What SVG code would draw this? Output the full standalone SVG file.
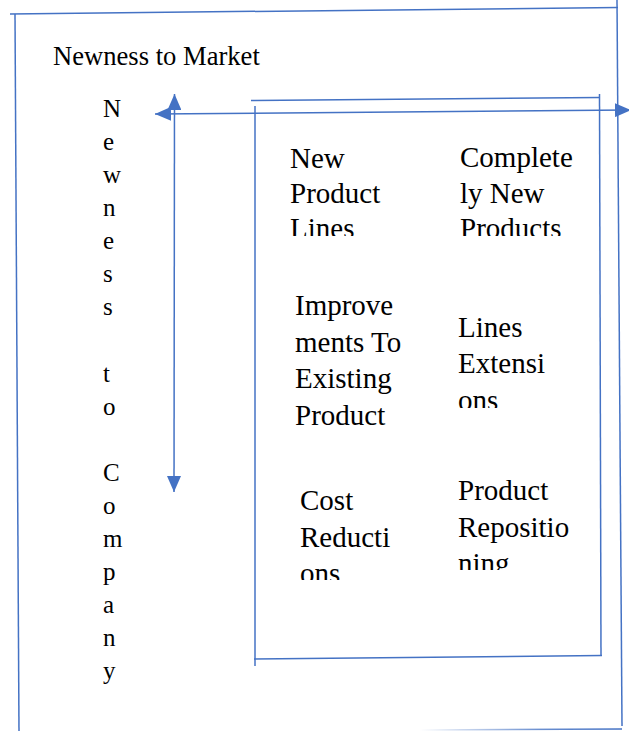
<svg xmlns="http://www.w3.org/2000/svg" width="629" height="731" viewBox="0 0 629 731">
  <style>
    .ln { stroke: #4472C4; stroke-width: 1.5; fill: none; }
    .t { font-family: "Liberation Serif", "Times New Roman", serif; fill: #000; }
    .cell { font-size: 29px; }
  </style>
  <defs>
    <marker id="ah" markerUnits="userSpaceOnUse" markerWidth="16" markerHeight="14" refX="16" refY="7" orient="auto-start-reverse">
      <path d="M0,0 L16,7 L0,14 Z" fill="#4472C4"/>
    </marker>
    <linearGradient id="fade" x1="0" y1="0" x2="1" y2="0">
      <stop offset="0" stop-color="#4472C4" stop-opacity="0"/>
      <stop offset="0.6" stop-color="#4472C4" stop-opacity="0.8"/>
      <stop offset="1" stop-color="#4472C4" stop-opacity="1"/>
    </linearGradient>
    <clipPath id="c1"><rect x="280" y="130" width="165" height="106"/></clipPath>
    <clipPath id="c2"><rect x="450" y="130" width="140" height="106"/></clipPath>
    <clipPath id="c4"><rect x="450" y="300" width="140" height="108"/></clipPath>
    <clipPath id="c5"><rect x="290" y="470" width="150" height="110"/></clipPath>
    <clipPath id="c6"><rect x="450" y="460" width="145" height="110"/></clipPath>
  </defs>

  <g id="outer-frame">
    <line class="ln" x1="10" y1="14" x2="618" y2="7.5"/>
    <line class="ln" x1="15" y1="14" x2="19" y2="731"/>
    <line class="ln" x1="617" y1="0" x2="622" y2="726"/>
    <line x1="420" y1="730" x2="622" y2="729" stroke="url(#fade)" stroke-width="1.5"/>
  </g>

  <g id="title">
    <text class="t" x="53" y="65" font-size="26.6">Newness to Market</text>
  </g>

  <g id="vertical-label">
    <text class="t" font-size="25" x="103" y="116.7">
      <tspan x="103" y="116.7">N</tspan>
      <tspan x="103" y="149.8">e</tspan>
      <tspan x="103" y="182.9">w</tspan>
      <tspan x="103" y="216">n</tspan>
      <tspan x="103" y="249.1">e</tspan>
      <tspan x="103" y="282.2">s</tspan>
      <tspan x="103" y="315.3">s</tspan>
      <tspan x="103" y="381.5">t</tspan>
      <tspan x="103" y="414.6">o</tspan>
      <tspan x="103" y="480.8">C</tspan>
      <tspan x="103" y="513.9">o</tspan>
      <tspan x="103" y="547">m</tspan>
      <tspan x="103" y="580.1">p</tspan>
      <tspan x="103" y="613.2">a</tspan>
      <tspan x="103" y="646.3">n</tspan>
      <tspan x="103" y="679.4">y</tspan>
    </text>
  </g>

  <g id="inner-box">
    <line class="ln" x1="251" y1="100.5" x2="600" y2="97.5"/>
    <line class="ln" x1="599.5" y1="94" x2="601" y2="656"/>
    <line class="ln" x1="255" y1="106" x2="255" y2="666"/>
    <line class="ln" x1="254" y1="659" x2="602" y2="655.5"/>
  </g>

  <g id="connectors">
    <line class="ln" x1="155" y1="114" x2="631" y2="110" marker-start="url(#ah)" marker-end="url(#ah)"/>
    <line class="ln" x1="174.5" y1="94" x2="174" y2="492" marker-start="url(#ah)" marker-end="url(#ah)"/>
  </g>

  <g id="cell-new-product-lines" clip-path="url(#c1)">
    <text class="t cell">
      <tspan x="290" y="168.3">New</tspan>
      <tspan x="290" y="202.5">Product</tspan>
      <tspan x="290" y="237.5">Lines</tspan>
    </text>
  </g>

  <g id="cell-completely-new-products" clip-path="url(#c2)">
    <text class="t cell">
      <tspan x="460" y="166.7">Complete</tspan>
      <tspan x="460" y="202.5">ly New</tspan>
      <tspan x="460" y="238">Products</tspan>
    </text>
  </g>

  <g id="cell-improvements">
    <text class="t cell">
      <tspan x="295" y="315">Improve</tspan>
      <tspan x="295" y="351.5">ments To</tspan>
      <tspan x="295" y="388">Existing</tspan>
      <tspan x="295" y="424.5">Product</tspan>
    </text>
  </g>

  <g id="cell-lines-extensions" clip-path="url(#c4)">
    <text class="t cell">
      <tspan x="458" y="336.7">Lines</tspan>
      <tspan x="458" y="373.2">Extensi</tspan>
      <tspan x="458" y="409.7">ons</tspan>
    </text>
  </g>

  <g id="cell-cost-reductions" clip-path="url(#c5)">
    <text class="t cell">
      <tspan x="300" y="510">Cost</tspan>
      <tspan x="300" y="546.5">Reducti</tspan>
      <tspan x="300" y="583">ons</tspan>
    </text>
  </g>

  <g id="cell-product-repositioning" clip-path="url(#c6)">
    <text class="t cell">
      <tspan x="458" y="500">Product</tspan>
      <tspan x="458" y="536.5">Repositio</tspan>
      <tspan x="458" y="573">ning</tspan>
    </text>
  </g>
</svg>
